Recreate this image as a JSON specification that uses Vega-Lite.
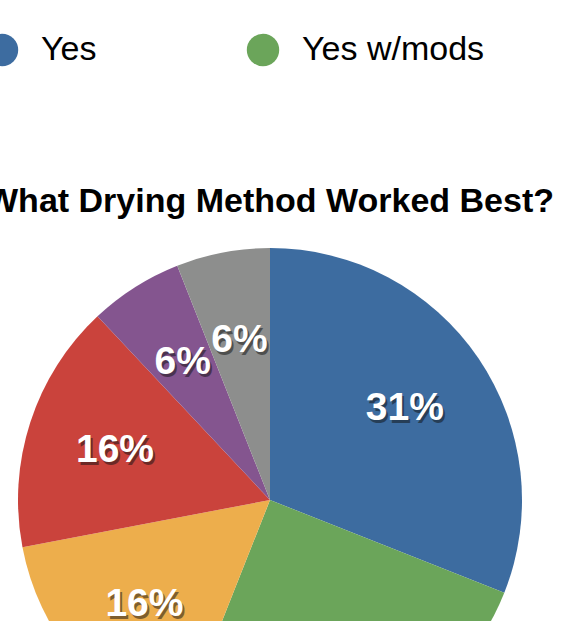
{
  "$schema": "https://vega.github.io/schema/vega-lite/v6.json",
  "autosize": "none",
  "width": 540,
  "height": 504,
  "padding": {"left": 0, "top": 248, "right": 32, "bottom": 0},
  "background": "white",
  "title": {
    "text": "What Drying Method Worked Best?",
    "font": "Liberation Sans",
    "fontSize": 34,
    "fontWeight": "bold",
    "color": "#000000",
    "anchor": "middle",
    "frame": "group",
    "baseline": "alphabetic",
    "offset": -213
  },
  "data": {
    "values": [
      {"answer": "Yes", "pct": 31, "label": "31%", "order": 1},
      {"answer": "Yes w/mods", "pct": 25, "label": "25%", "order": 2},
      {"answer": "Somewhat", "pct": 16, "label": "16%", "order": 3},
      {"answer": "No", "pct": 16, "label": "16%", "order": 4},
      {"answer": "Not tried", "pct": 6, "label": "6%", "order": 5},
      {"answer": "Other", "pct": 6, "label": "6%", "order": 6}
    ]
  },
  "encoding": {
    "theta": {"field": "pct", "type": "quantitative", "stack": true},
    "order": {"field": "order", "type": "quantitative"},
    "color": {
      "field": "answer",
      "type": "nominal",
      "sort": ["Yes", "Yes w/mods", "Somewhat", "No", "Not tried", "Other"],
      "scale": {
        "domain": ["Yes", "Yes w/mods", "Somewhat", "No", "Not tried", "Other"],
        "range": ["#3D6CA0", "#6BA55A", "#EDAE4C", "#CA433C", "#84558F", "#8D8E8D"]
      },
      "legend": {
        "orient": "none",
        "legendX": -15,
        "legendY": -215,
        "direction": "horizontal",
        "columns": 6,
        "gridAlign": "each",
        "columnPadding": 149,
        "title": null,
        "symbolType": "circle",
        "symbolSize": 1050,
        "symbolStrokeWidth": 0,
        "labelFont": "Liberation Sans",
        "labelFontSize": 34,
        "labelColor": "#000000",
        "labelOffset": 22,
        "labelLimit": 400
      }
    }
  },
  "layer": [
    {"mark": {"type": "arc", "stroke": null}},
    {
      "mark": {"type": "text", "radius": 163, "font": "Liberation Sans", "fontSize": 39, "fontWeight": "bold", "opacity": 0.5, "dx": 2, "dy": 3, "align": "center", "baseline": "middle"},
      "encoding": {"text": {"field": "label"}, "color": {"value": "#111111"}}
    },
    {
      "mark": {"type": "text", "radius": 163, "font": "Liberation Sans", "fontSize": 39, "fontWeight": "bold", "align": "center", "baseline": "middle"},
      "encoding": {"text": {"field": "label"}, "color": {"value": "#ffffff"}}
    }
  ]
}
